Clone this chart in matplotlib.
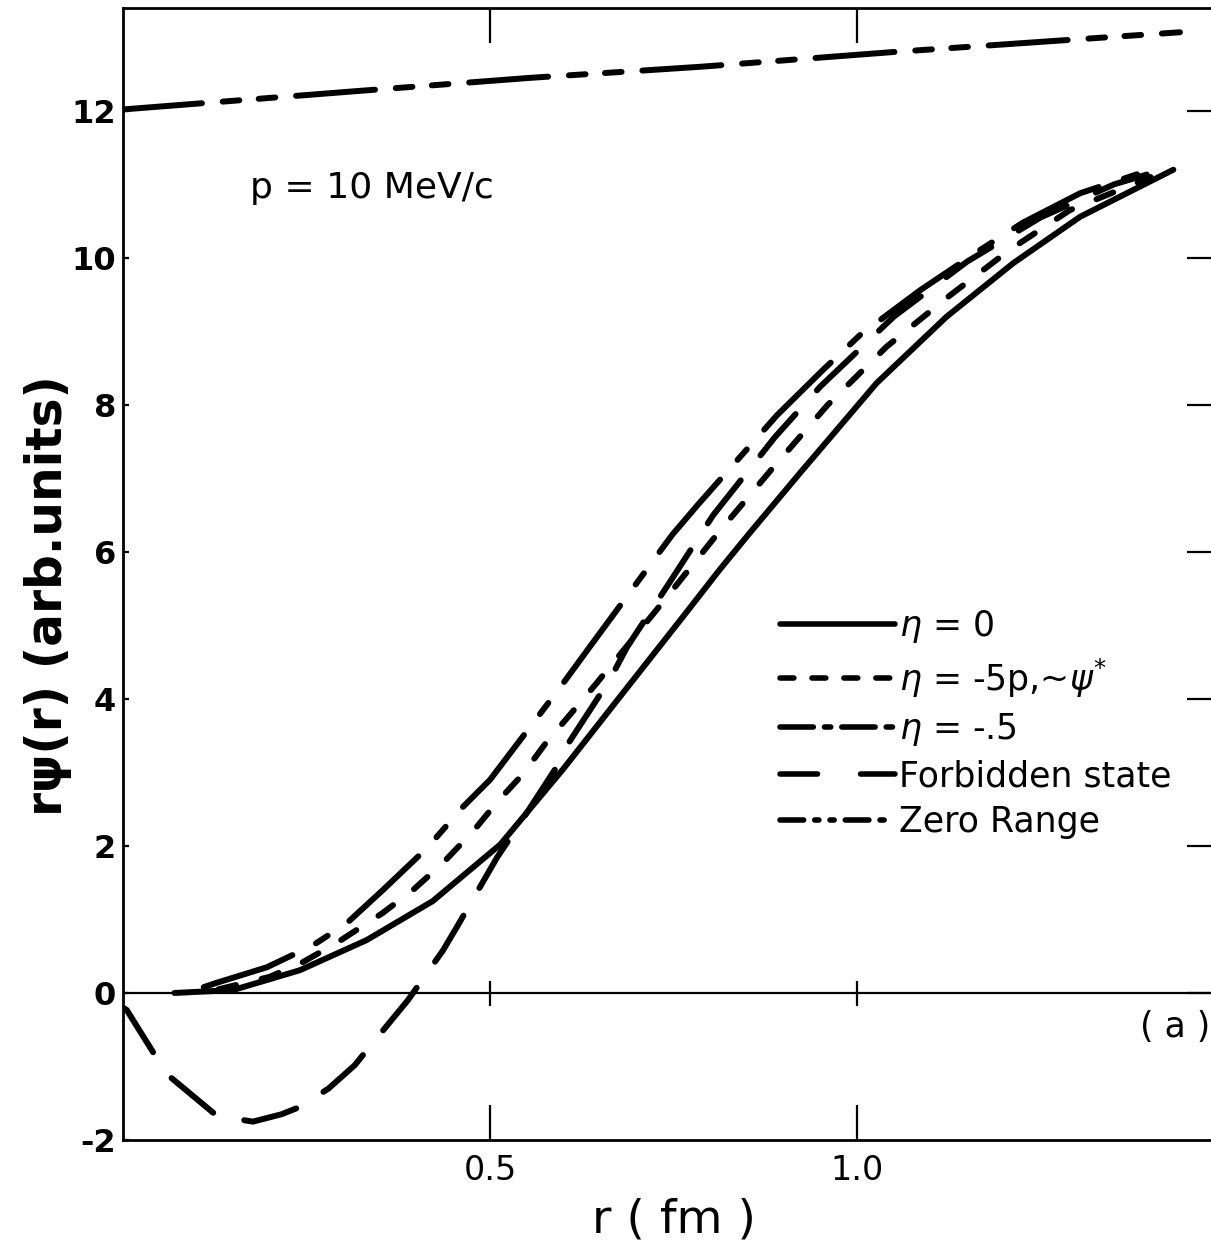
import matplotlib
matplotlib.use('Agg')
import matplotlib.pyplot as plt
from matplotlib.lines import Line2D

plt.rcParams['lines.scale_dashes'] = False
plt.rcParams['font.family'] = ['DejaVu Sans']
plt.rcParams['mathtext.fontset'] = 'dejavusans'

# ---------------- data ----------------
r_eta0 = [0.07, 0.15, 0.241, 0.332, 0.422, 0.514, 0.6, 0.681, 0.763, 0.813,
          0.854, 0.922, 1.027, 1.122, 1.213, 1.304, 1.431]
y_eta0 = [0.0, 0.04, 0.31, 0.72, 1.25, 2.02, 3.05, 4.08, 5.12, 5.76,
          6.26, 7.07, 8.30, 9.20, 9.93, 10.56, 11.2]

r_eta5p = [0.13, 0.2, 0.245, 0.291, 0.354, 0.395, 0.436, 0.477, 0.51, 0.545,
           0.576, 0.611, 0.644, 0.73, 0.815, 0.885, 0.960, 1.04, 1.124, 1.208,
           1.29, 1.40]
y_eta5p = [0.05, 0.22, 0.42, 0.68, 1.09, 1.40, 1.77, 2.2, 2.6, 2.98,
           3.40, 3.81, 4.20, 5.25, 6.31, 7.14, 8.0, 8.79, 9.47, 10.11,
           10.65, 11.1]

r_eta05 = [0.11, 0.128, 0.196, 0.259, 0.305, 0.354, 0.414, 0.463, 0.5, 0.595,
           0.636, 0.748, 0.783, 0.891, 0.954, 1.004, 1.086, 1.168, 1.226, 1.304,
           1.40]
y_eta05 = [0.08, 0.14, 0.35, 0.65, 0.95, 1.40, 1.97, 2.53, 2.90, 4.15,
           4.71, 6.23, 6.64, 7.86, 8.48, 8.95, 9.56, 10.11, 10.48, 10.88,
           11.2]

r_forb = [0.0, 0.005, 0.05, 0.064, 0.123, 0.146, 0.177, 0.216, 0.241, 0.28,
          0.316, 0.332, 0.388, 0.405, 0.436, 0.455, 0.51, 0.537, 0.595, 0.607,
          0.663, 0.687, 0.745, 0.804, 0.888, 0.95, 1.05, 1.15, 1.25, 1.35, 1.40]
y_forb = [-0.2, -0.23, -0.95, -1.14, -1.63, -1.70, -1.75, -1.65, -1.55, -1.3,
          -0.98, -0.78, -0.1, 0.14, 0.58, 0.90, 1.85, 2.25, 3.14, 3.40,
          4.26, 4.71, 5.59, 6.50, 7.56, 8.25, 9.2, 9.95, 10.55, 11.0, 11.15]

r_zero = [0.0, 0.319, 0.555, 0.786, 1.048, 1.44]
y_zero = [12.02, 12.27, 12.45, 12.6, 12.8, 13.07]

legend_labels = [r"$\eta$ = 0", r"$\eta$ = -5p,~$\psi^{*}$", r"$\eta$ = -.5",
                 "Forbidden state", "Zero Range"]
x_ticks = [0.5, 1.0]
x_ticklabels = ["0.5", "1.0"]
y_ticks = [-2, 0, 2, 4, 6, 8, 10, 12]
y_ticklabels = ["-2", "0", "2", "4", "6", "8", "10", "12"]

# ---------------- styles ----------------
LW = 4.3
styles = {
    'eta0': '-',
    'eta5p': (0, (13, 19)),
    'eta05': (0, (68, 19, 10, 19)),
    'forb': (0, (39, 23)),
    'zero': (0, (57, 15, 12, 14, 12, 15)),
}
leg_styles = {
    'eta0': '-',
    'eta5p': (0, (10, 13)),
    'eta05': (0, (24, 8, 4.5, 8)),
    'forb': (0, (27, 31)),
    'zero': (0, (17, 8, 3, 8, 3, 8)),
}

# ---------------- figure ----------------
fig = plt.figure(figsize=(12.11, 12.54), dpi=100)
ax = fig.add_axes([0.10157, 0.09091, 0.90917, 0.90271])
ax.set_xlim(0, 1.5)
ax.set_ylim(-2, 13.4)

common = dict(color='k', lw=LW, solid_capstyle='round', dash_capstyle='round')
ax.plot(r_eta0, y_eta0, linestyle=styles['eta0'], **common)
ax.plot(r_eta5p, y_eta5p, linestyle=styles['eta5p'], **common)
ax.plot(r_eta05, y_eta05, linestyle=styles['eta05'], **common)
ax.plot(r_forb, y_forb, linestyle=styles['forb'], **common)
ax.plot(r_zero, y_zero, linestyle=styles['zero'], **common)

# zero line with crossing ticks
ax.axhline(0, color='k', lw=1.6, zorder=1)
ax.plot(x_ticks, [0] * len(x_ticks), ls='none', marker='|', ms=18, mew=1.6, color='k')

for s in ax.spines.values():
    s.set_linewidth(2.0)

ax.set_xticks(x_ticks)
ax.set_xticklabels(x_ticklabels)
ax.tick_params(axis='x', direction='in', length=25, width=1.6, top=True,
               labelsize=24, pad=10)
ax.set_yticks(y_ticks)
ax.set_yticklabels(y_ticklabels, fontweight='bold')
ax.tick_params(axis='y', direction='in', length=4, width=1.6, labelsize=23, pad=5)

sec = ax.secondary_yaxis('right')
sec.set_yticks(y_ticks[1:])
sec.tick_params(direction='in', length=27, width=1.6, labelright=False)
sec.spines['right'].set_linewidth(2.0)

ax.set_xlabel("r ( fm )", fontsize=34, labelpad=8)
ax.set_ylabel("rψ(r) (arb.units)", fontsize=35, fontweight='bold')
ax.yaxis.set_label_coords(-0.046, 0.481)

ax.text(0.173, 10.95, "p = 10 MeV/c", fontsize=26, va='center', ha='left')
ax.text(1.386, -0.46, "( a )", fontsize=25, va='center', ha='left')

handles = [Line2D([], [], color='k', lw=4.0, linestyle=leg_styles[k],
                  solid_capstyle='round', dash_capstyle='round')
           for k in ['eta0', 'eta5p', 'eta05', 'forb', 'zero']]
ax.legend(handles, legend_labels, loc='upper left',
          bbox_to_anchor=(0.597, 0.470), frameon=False, fontsize=25,
          handlelength=3.31, handletextpad=0.1, labelspacing=0.33,
          borderpad=0, borderaxespad=0)

fig.savefig("out.png", dpi=100)
